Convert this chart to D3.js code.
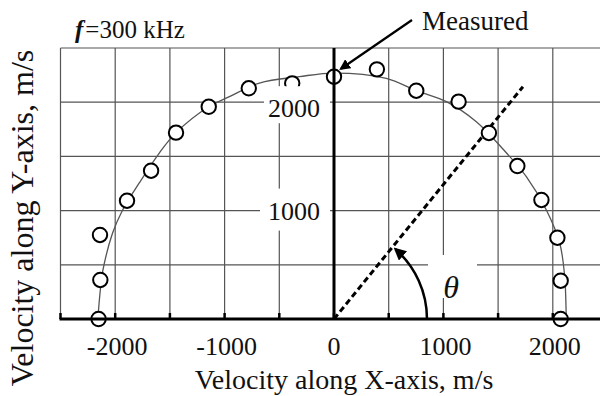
<!DOCTYPE html>
<html>
<head>
<meta charset="utf-8">
<script src="https://cdn.jsdelivr.net/npm/d3@7"></script>
<style>
  body { margin: 0; background: #fff; }
  text, tspan { font-family: "Liberation Serif", "Times New Roman", serif; fill: #111; }
</style>
</head>
<body>
<svg id="chart" width="600" height="396"></svg>
<script>
// measured points (m/s), one every 10 degrees
var measuredX = [-2152, -2136, -2139, -1892, -1672, -1444, -1145, -779, -382, 0,
                 392, 752, 1139, 1416, 1676, 1896, 2042, 2072, 2072];
var measuredY = [0, 360, 775, 1091, 1368, 1719, 1958, 2128, 2174, 2235,
                 2303, 2106, 2005, 1716, 1411, 1098, 750, 353, 0];

// fitted curve
var fitX = [-2159, -2136, -2115, -2024, -1932, -1780, -1597, -1444, -1145, -956, -682, -316, 0,
            478, 752, 1027, 1301, 1544, 1758, 1941, 2063, 2109, 2124, 2127];
var fitY = [0, 268, 436, 793, 1006, 1255, 1531, 1719, 1958, 2051, 2177, 2236, 2269,
            2220, 2106, 2005, 1820, 1568, 1313, 1006, 701, 390, 21, 0];

var xTicks = [-2000, -1000, 0, 1000, 2000];
var xGrid = [-2500, -2000, -1500, -1000, -500, 500, 1000, 1500, 2000, 2500];
var yGrid = [500, 1000, 1500, 2000, 2500];
var yLabels = [2000, 1000];

// direction line for theta and the arc radius
var thetaEnd = [1727, 2143];
var arcRadius = 850;

var svg = d3.select("#chart");
var serif = "'Liberation Serif', 'Times New Roman', serif";

var x = d3.scaleLinear().domain([-2500, 2500]).range([60.5, 607.5]);
var y = d3.scaleLinear().domain([0, 2500]).range([319, 48]);

var gridColor = "#555";

// grid
svg.append("g").selectAll("line").data(xGrid).enter().append("line")
    .attr("x1", function(d) { return x(d); })
    .attr("x2", function(d) { return x(d); })
    .attr("y1", y(2500))
    .attr("y2", y(0))
    .attr("stroke", gridColor)
    .attr("stroke-width", 1.2);

svg.append("g").selectAll("line").data(yGrid).enter().append("line")
    .attr("x1", x(-2500))
    .attr("x2", 600)
    .attr("y1", function(d) { return y(d); })
    .attr("y2", function(d) { return y(d); })
    .attr("stroke", gridColor)
    .attr("stroke-width", 1.2);

// white boxes behind labels inside the plot
var boxes = [
    { v: 2000, x0: x(0) - 70, w: 66, y0: y(2000) - 16, h: 37 },
    { v: 1000, x0: x(0) - 74, w: 70, y0: y(1000) - 22, h: 42 }
];

// tick marks on x axis
svg.append("g").selectAll("line").data(xGrid.concat([0])).enter().append("line")
    .attr("x1", function(d) { return x(d); })
    .attr("x2", function(d) { return x(d); })
    .attr("y1", y(0))
    .attr("y2", y(0) - 6)
    .attr("stroke", "#000")
    .attr("stroke-width", 2.5);

// fitted curve
var line = d3.line()
    .x(function(d) { return x(d[0]); })
    .y(function(d) { return y(d[1]); })
    .curve(d3.curveCatmullRom);

svg.append("path")
    .datum(d3.zip(fitX, fitY))
    .attr("d", line)
    .attr("fill", "none")
    .attr("stroke", "#555")
    .attr("stroke-width", 1.3);

// dashed theta direction
svg.append("line")
    .attr("x1", x(0)).attr("y1", y(0))
    .attr("x2", x(thetaEnd[0])).attr("y2", y(thetaEnd[1]))
    .attr("stroke", "#000")
    .attr("stroke-width", 3)
    .attr("stroke-dasharray", "6,3.5");

// measured points
svg.append("g").selectAll("circle").data(d3.zip(measuredX, measuredY)).enter().append("circle")
    .attr("cx", function(d) { return x(d[0]); })
    .attr("cy", function(d) { return y(d[1]); })
    .attr("r", 7.2)
    .attr("fill", "#fff")
    .attr("stroke", "#000")
    .attr("stroke-width", 2);

// label boxes hide grid (and the point under "2000")
svg.append("g").selectAll("rect").data(boxes).enter().append("rect")
    .attr("x", function(d) { return d.x0; })
    .attr("y", function(d) { return d.y0; })
    .attr("width", function(d) { return d.w; })
    .attr("height", function(d) { return d.h; })
    .attr("fill", "#fff");

svg.append("g").selectAll("text").data(yLabels).enter().append("text")
    .attr("x", x(0) - 14)
    .attr("y", function(d) { return y(d) + (d == 2000 ? 15 : 9); })
    .attr("text-anchor", "end")
    .attr("font-family", serif)
    .attr("font-size", 26)
    .text(function(d) { return d; });

// axes
svg.append("line")
    .attr("x1", x(0)).attr("x2", x(0))
    .attr("y1", y(2500)).attr("y2", y(0))
    .attr("stroke", "#000").attr("stroke-width", 3);

svg.append("line")
    .attr("x1", x(-2500) - 1).attr("x2", 600)
    .attr("y1", y(0)).attr("y2", y(0))
    .attr("stroke", "#000").attr("stroke-width", 3);

// theta arc with arrow
var defs = svg.append("defs");
defs.append("marker")
    .attr("id", "head")
    .attr("viewBox", "0 0 10 10")
    .attr("refX", 8).attr("refY", 5)
    .attr("markerWidth", 5).attr("markerHeight", 5)
    .attr("markerUnits", "strokeWidth")
    .attr("orient", "auto")
    .append("path")
    .attr("d", "M0,0 L10,5 L0,10 z")
    .attr("fill", "#000");

var r = x(arcRadius) - x(0);
var endAng = Math.atan2(y(0) - y(thetaEnd[1]), x(thetaEnd[0]) - x(0)) - 0.04;
var p = d3.path();
p.arc(x(0), y(0), r, 0, -endAng, true);
svg.append("path")
    .attr("d", p.toString())
    .attr("fill", "none")
    .attr("stroke", "#000")
    .attr("stroke-width", 2.5)
    .attr("marker-end", "url(#head)");

svg.append("rect")
    .attr("x", 428).attr("y", 255)
    .attr("width", 49).attr("height", 43)
    .attr("fill", "#fff");

svg.append("text")
    .attr("x", 451).attr("y", 298)
    .attr("text-anchor", "middle")
    .attr("font-family", serif)
    .attr("font-size", 32)
    .attr("font-style", "italic")
    .text("\u03b8");

// x tick labels
svg.append("g").selectAll("text").data(xTicks).enter().append("text")
    .attr("x", function(d) { return x(d) + (d == 0 ? 0 : 2); })
    .attr("y", 355)
    .attr("text-anchor", "middle")
    .attr("font-family", serif)
    .attr("font-size", 26)
    .text(function(d) { return d; });

// axis titles
svg.append("text")
    .attr("x", 344).attr("y", 389)
    .attr("text-anchor", "middle")
    .attr("font-family", serif)
    .attr("font-size", 28)
    .text("Velocity along X-axis, m/s");

svg.append("text")
    .attr("transform", "translate(33,218)rotate(-90)")
    .attr("text-anchor", "middle")
    .attr("font-family", serif)
    .attr("font-size", 32)
    .text("Velocity along Y-axis, m/s");

// frequency label
var ft = svg.append("text")
    .attr("x", 75).attr("y", 38)
    .attr("font-family", serif)
    .attr("font-size", 25);
ft.append("tspan").attr("font-style", "italic").attr("font-weight", "bold").text("f");
ft.append("tspan").attr("dx", 2).text("=300 kHz");

// "Measured" annotation
svg.append("text")
    .attr("x", 422).attr("y", 30)
    .attr("font-family", serif)
    .attr("font-size", 27)
    .text("Measured");

svg.append("line")
    .attr("x1", 412).attr("y1", 20)
    .attr("x2", x(measuredX[9]) + 7).attr("y2", y(measuredY[9]) - 8)
    .attr("stroke", "#000")
    .attr("stroke-width", 2.2)
    .attr("marker-end", "url(#head)");
</script>
</body>
</html>
